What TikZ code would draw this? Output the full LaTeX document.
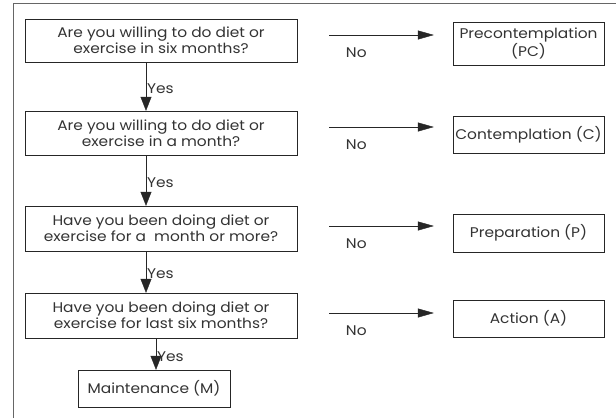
\documentclass[tikz,border=0pt]{standalone}
\usepackage{fontspec}
\setmainfont[FakeStretch=1.1]{Poppins}
\usepackage{tikz}
\usetikzlibrary{arrows.meta}

\begin{document}
\begin{tikzpicture}[x=1pt,y=-1pt,
  font=\fontsize{14}{16}\selectfont,
  qbox/.style={draw=black!85, text=black!80, align=center, minimum width=272pt, inner sep=1pt},
  sbox/.style={draw=black!85, text=black!80, align=center, minimum width=151pt, inner sep=1pt},
  yesarrow/.style={draw=black!85, -{Triangle[length=14pt,width=11pt]}},
  noarrow/.style={draw=black!85, -{Triangle[length=16pt,width=9pt]}, shorten <=32pt, shorten >=19pt},
  lbl/.style={text=black!80, inner sep=1pt}]
\useasboundingbox (0,0) rectangle (616,418);
% Rahmen
\draw[black!60] (13,418) -- (13,3) -- (616,3);

% Fragen
\node[qbox, minimum height=43pt] (q1) at (161,40.5) {Are you willing to do diet or\\exercise in six months?};
\node[qbox, minimum height=44pt] (q2) at (161,133) {Are you willing to do diet or\\exercise in a month?};
\node[qbox, minimum height=45pt] (q3) at (161,228.5) {Have you been doing diet or\\exercise for a \ month or more?};
\node[qbox, minimum height=45pt] (q4) at (161,315.5) {Have you been doing diet or\\exercise for last six months?};
\node[sbox, minimum width=152pt, minimum height=37pt] (mt) at (154,388.5) {Maintenance (M)};

% Stadien
\node[sbox, minimum height=43pt] (pc) at (528.5,43.5) {Precontemplation\\(PC)};
\node[sbox, minimum height=37pt] (ct) at (528.5,134.5) {Contemplation (C)};
\node[sbox, minimum height=38pt] (pr) at (528.5,233) {Preparation (P)};
\node[sbox, minimum height=37pt] (ac) at (528.5,318.5) {Action (A)};

% Ja-Pfeile
\draw[yesarrow] ([xshift=-15pt]q1.south) -- ([xshift=-15pt]q2.north) node[lbl, pos=0.55, right] {Yes};
\draw[yesarrow] ([xshift=-15pt]q2.south) -- ([xshift=-15pt]q3.north) node[lbl, pos=0.55, right] {Yes};
\draw[yesarrow] ([xshift=-15pt]q3.south) -- ([xshift=-15pt]q4.north) node[lbl, pos=0.55, right] {Yes};
\draw[yesarrow] ([xshift=-5pt]q4.south) -- ([xshift=2pt]mt.north) node[lbl, pos=0.6, right] {Yes};

% Nein-Pfeile
\draw[noarrow] ([yshift=5.5pt]q1.east) -- ([yshift=5.5pt]q1.east -| pc.west) node[lbl, pos=0.38, below=12pt] {No};
\draw[noarrow] ([yshift=6pt]q2.east) -- ([yshift=6pt]q2.east -| ct.west) node[lbl, pos=0.38, below=12pt] {No};
\draw[noarrow] ([yshift=2.5pt]q3.east) -- ([yshift=2.5pt]q3.east -| pr.west) node[lbl, pos=0.38, below=12pt] {No};
\draw[noarrow] ([yshift=2.5pt]q4.east) -- ([yshift=2.5pt]q4.east -| ac.west) node[lbl, pos=0.38, below=12pt] {No};
\end{tikzpicture}
\end{document}
